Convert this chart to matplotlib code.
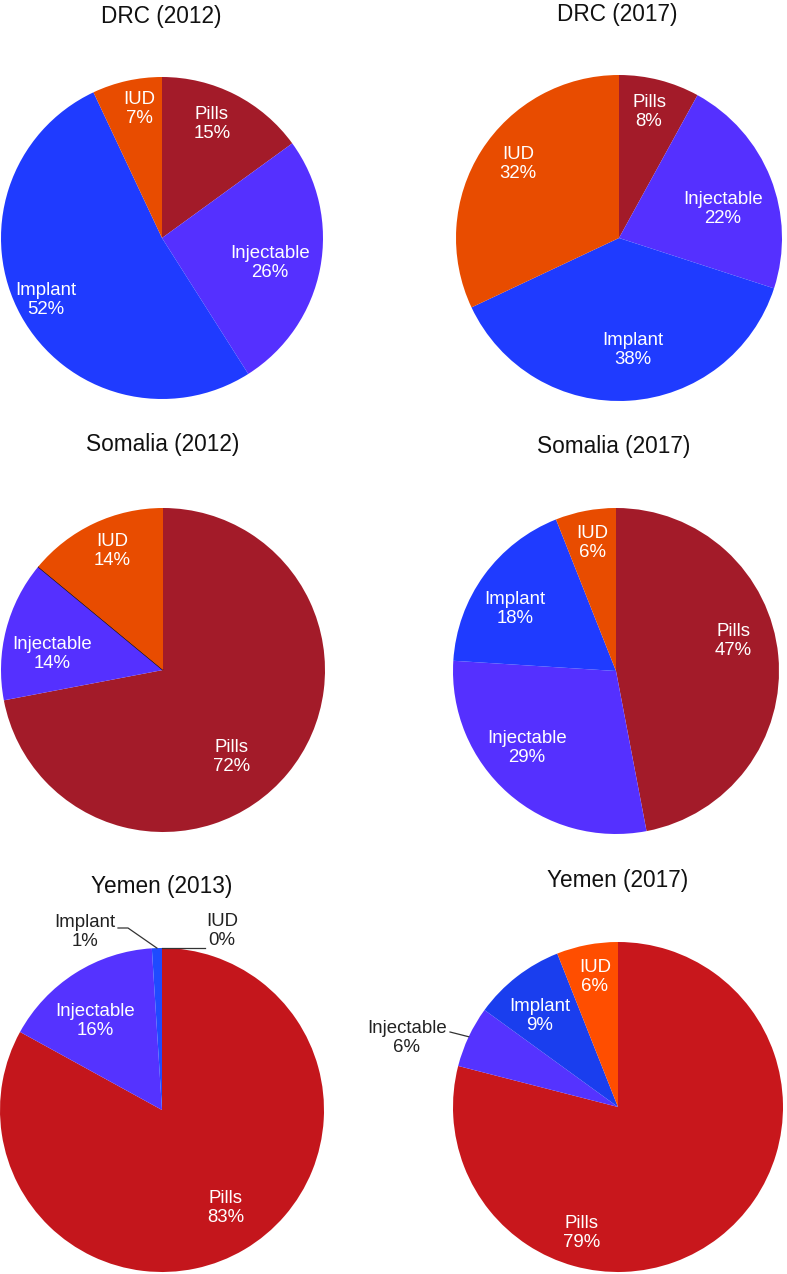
import matplotlib
matplotlib.use("Agg")
import matplotlib.pyplot as plt
import numpy as np

W, H = 787, 1274

# data (share of modern methods, %), slices drawn clockwise from 12 o'clock
methods = ["Pills", "Injectable", "Implant", "IUD"]
titles = ["DRC (2012)", "DRC (2017)", "Somalia (2012)", "Somalia (2017)", "Yemen (2013)", "Yemen (2017)"]
drc_2012 = [15, 26, 52, 7]
drc_2017 = [8, 22, 38, 32]
somalia_2012 = [72, 14, 0, 14]
somalia_2017 = [47, 29, 18, 6]
yemen_2013 = [83, 16, 1, 0]
yemen_2017 = [79, 6, 9, 6]
series = [drc_2012, drc_2017, somalia_2012, somalia_2017, yemen_2013, yemen_2017]

# colours
dark_palette = ["#A31B29", "#5530FF", "#1F3BFF", "#E84C00"]
yemen13_palette = ["#C4161C", "#5533FF", "#1F4BFF", "#E84C00"]
yemen17_palette = ["#C8171C", "#5533FF", "#1A3EEE", "#FF4E00"]
palettes = [dark_palette, dark_palette, dark_palette, dark_palette, yemen13_palette, yemen17_palette]

# layout in pixel coordinates (y measured from the top)
layout = [
    dict(center=(162, 238), r=161, title=(161, 17),
         labels={"Pills": (212, 124), "Injectable": (270, 263), "Implant": (46, 300), "IUD": (139, 109)}),
    dict(center=(619, 238), r=163, title=(617, 15),
         labels={"Pills": (649, 112), "Injectable": (723, 209), "Implant": (633, 350), "IUD": (518, 164)}),
    dict(center=(163, 670), r=162, title=(163, 445), zero_edge=True,
         labels={"Pills": (232, 757), "Injectable": (52, 654), "IUD": (112, 551)}),
    dict(center=(616, 671), r=163, title=(614, 447),
         labels={"Pills": (733, 641), "Injectable": (527, 748), "Implant": (515, 609), "IUD": (592, 543)}),
    dict(center=(162, 1110), r=162, title=(162, 887),
         labels={"Pills": (226, 1208), "Injectable": (95, 1021)},
         outside={"Implant": ((85, 932), [(118, 928), (128, 928)]),
                  "IUD": ((222, 931), [(205, 948)])}),
    dict(center=(618, 1107), r=165, title=(618, 880),
         labels={"Pills": (582, 1233), "Implant": (540, 1016), "IUD": (595, 977)},
         outside={"Injectable": ((407, 1038), [(450, 1032)])}),
]

plt.rcParams["font.family"] = ["Liberation Sans", "DejaVu Sans"]

fig = plt.figure(figsize=(W / 100, H / 100), dpi=100)
ax = fig.add_axes([0, 0, 1, 1])


def px(p):
    return p[0], H - p[1]


for title, values, colors, lay in zip(titles, series, palettes, layout):
    cx, cy = px(lay["center"])
    r = lay["r"]
    wedges, _ = ax.pie(values, colors=colors, startangle=90, counterclock=False,
                       center=(cx, cy), radius=r, wedgeprops=dict(linewidth=0))
    if lay.get("zero_edge"):
        for w, v in zip(wedges, values):
            if v == 0:
                w.set_edgecolor("#111111")
                w.set_linewidth(0.9)

    ax.text(*px(lay["title"]), title, ha="center", va="center", fontsize=16.3, color="#111111")

    for name, pos in lay["labels"].items():
        v = values[methods.index(name)]
        ax.text(*px(pos), f"{name}\n{v}%", ha="center", va="center", fontsize=13.4,
                color="white", linespacing=1.2)

    for name, (pos, path) in lay.get("outside", {}).items():
        i = methods.index(name)
        v = values[i]
        ax.text(*px(pos), f"{name}\n{v}%", ha="center", va="center", fontsize=13.4,
                color="#222222", linespacing=1.2)
        # leader line ends on the rim at the middle of the wedge
        w = wedges[i]
        mid = np.deg2rad((w.theta1 + w.theta2) / 2)
        end = (cx + r * np.cos(mid), cy + r * np.sin(mid))
        pts = [px(p) for p in path] + [end]
        ax.plot([p[0] for p in pts], [p[1] for p in pts], color="#333333", lw=0.9)

ax.set_xlim(0, W)
ax.set_ylim(0, H)
ax.set_aspect("equal")
ax.axis("off")

fig.savefig("out.png", dpi=100)
